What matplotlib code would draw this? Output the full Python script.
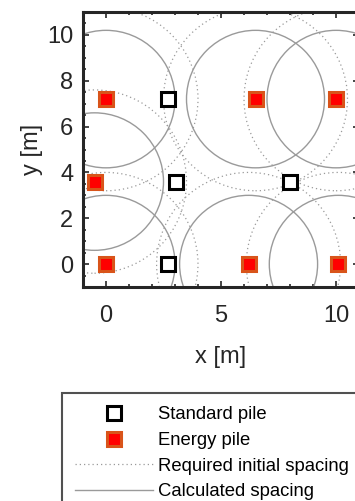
import matplotlib

matplotlib.use("Agg")

import matplotlib.pyplot as plt
from matplotlib.lines import Line2D
from matplotlib.patches import Circle
from matplotlib.ticker import MultipleLocator

plt.rcParams["font.family"] = ["Liberation Sans", "DejaVu Sans"]

# Posiciones de pilotes (m)
energia_x = [0.0, 6.5, 10.0, -0.5, 0.0, 6.2, 10.1]
energia_y = [7.2, 7.2, 7.2, 3.6, 0.0, 0.0, 0.0]
estandar_x = [2.7, 3.05, 8.0, 2.7]
estandar_y = [7.2, 3.6, 3.6, 0.0]

# Radios de espaciamiento (m)
radio_requerido = 4.0
radio_calculado = 3.0

xticks = [0, 5, 10]
yticks = [0, 2, 4, 6, 8, 10]

GRIS = "#9a9a9a"
BORDE_ENERGIA = "#d9541a"

fig = plt.figure(figsize=(3.55, 5.01), dpi=100)
ax = fig.add_axes([83 / 355, 214 / 501, 276 / 355, 275 / 501])

for cx, cy in zip(energia_x, energia_y):
    ax.add_patch(Circle((cx, cy), radio_requerido, fill=False, ec=GRIS, lw=0.9,
                        ls=(0, (1, 2.4)), zorder=1))
    ax.add_patch(Circle((cx, cy), radio_calculado, fill=False, ec=GRIS, lw=1.0, zorder=2))

ax.plot(estandar_x, estandar_y, ls="none", marker="s", ms=9.5, mfc="white",
        mec="black", mew=2.2, zorder=4)
ax.plot(energia_x, energia_y, ls="none", marker="s", ms=10.5, mfc="#ff0000",
        mec=BORDE_ENERGIA, mew=2.2, zorder=4)

ax.set_xlim(-1, 11)
ax.set_ylim(-1, 11)
ax.set_xticks(xticks)
ax.set_yticks(yticks)
ax.xaxis.set_minor_locator(MultipleLocator(1))
ax.yaxis.set_minor_locator(MultipleLocator(0.5))
ax.tick_params(which="both", direction="in", top=True, right=True, width=1.2, colors="#262626")
ax.tick_params(which="major", length=4.5, labelsize=17, labelcolor="#262626")
ax.tick_params(axis="x", which="major", pad=13)
ax.tick_params(axis="y", which="major", pad=7)
ax.tick_params(which="minor", length=2.5)
for lado in ax.spines.values():
    lado.set_linewidth(2.2)
    lado.set_color("#262626")

ax.set_xlabel("x [m]", fontsize=17, color="#262626", labelpad=14)
ax.set_ylabel("y [m]", fontsize=17, color="#262626", labelpad=3)

manejadores = [
    Line2D([], [], ls="none", marker="s", ms=9.5, mfc="white", mec="black", mew=2.2),
    Line2D([], [], ls="none", marker="s", ms=10.5, mfc="#ff0000", mec=BORDE_ENERGIA, mew=2.2),
    Line2D([], [], color=GRIS, lw=0.9, ls=(0, (1, 2.4))),
    Line2D([], [], color=GRIS, lw=1.0),
]
etiquetas = ["Standard pile", "Energy pile", "Required initial spacing", "Calculated spacing"]
leyenda = fig.legend(manejadores, etiquetas, loc="upper left",
                     bbox_to_anchor=(62 / 355, 1 - 393 / 501), fontsize=13.3,
                     frameon=True, fancybox=False, handlelength=4.2, handletextpad=0.25,
                     labelspacing=0.47, borderpad=0.72, borderaxespad=0)
leyenda.get_frame().set_edgecolor("#262626")
leyenda.get_frame().set_linewidth(1.5)

fig.savefig("out.png", dpi=100)
